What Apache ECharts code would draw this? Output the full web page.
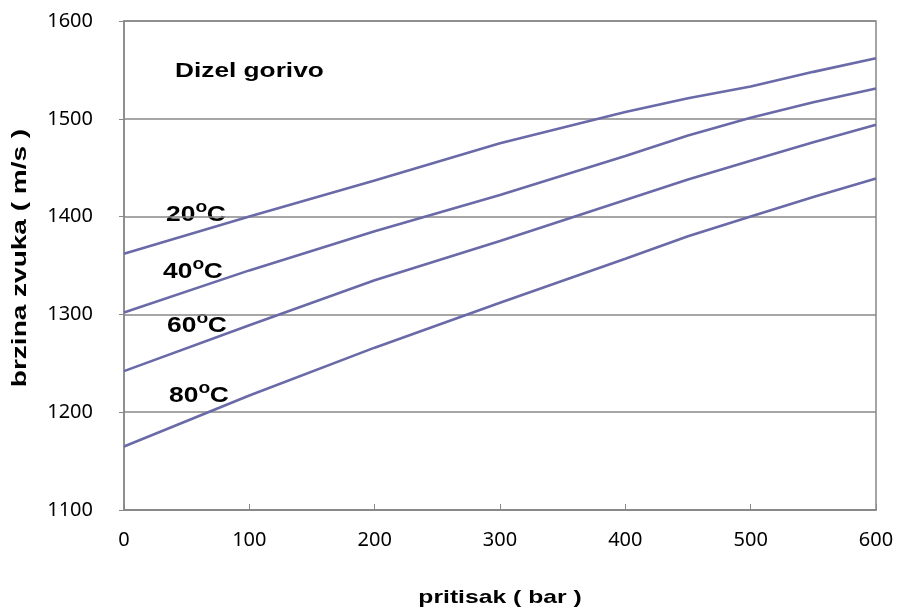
<!DOCTYPE html>
<html>
<head>
<meta charset="utf-8">
<script src="https://cdn.jsdelivr.net/npm/echarts@6/dist/echarts.min.js"></script>
<style>
  html, body { margin: 0; padding: 0; background: #fff; }
  #chart { width: 900px; height: 610px; }
</style>
</head>
<body>
<div id="chart"></div>
<script>
// pressure (bar)
const pressure = [0, 100, 200, 300, 400, 450, 500, 550, 600];
// speed of sound (m/s) per temperature
const t20 = [1362, 1400, 1437, 1475, 1507, 1521, 1533, 1548, 1562];
const t40 = [1302, 1345, 1385, 1422, 1462, 1483, 1501, 1517, 1531];
const t60 = [1242, 1289, 1335, 1375, 1417, 1438, 1457, 1476, 1494];
const t80 = [1165, 1217, 1266, 1312, 1357, 1380, 1400, 1420, 1439];
const tempLabels = ['20', '40', '60', '80'];

const lineColor = '#6A6AA8';
const boldFont = 'Liberation Sans, Arial';
const pairs = (ys) => pressure.map((x, i) => [x, ys[i]]);

const chart = echarts.init(document.getElementById('chart'));

const mkSeries = (ys) => ({
  type: 'line',
  data: pairs(ys),
  symbol: 'none',
  lineStyle: { color: lineColor, width: 2.6 },
  silent: true,
});

// label anchors (left, middle) in pixels
const labelPos = [[166, 215], [163, 272], [167, 326], [169, 396]];
const bold = (text, size, x, y) => ({
  type: 'text', x, y,
  style: { text, fontSize: size, fontWeight: 'bold', fontFamily: boldFont, fill: '#000', align: 'left', verticalAlign: 'middle' },
});
// "20" + raised "o" + "C"
const tempLabel = (t, i) => ({
  type: 'group',
  x: labelPos[i][0], y: labelPos[i][1],
  scaleX: 1.2,
  children: [
    bold(t, 22, 0, 0),
    bold('o', 16, 24.5, -7),
    bold('C', 22, 34, 0),
  ],
});

chart.setOption({
  animation: false,
  grid: { left: 124, right: 24, top: 21, bottom: 100, show: true, borderColor: '#888', borderWidth: 1.5 },
  xAxis: {
    type: 'value', min: 0, max: 600, interval: 100,
    axisLine: { show: true, lineStyle: { color: '#888', width: 1.5 } },
    axisTick: { show: true, inside: true, length: 6, lineStyle: { color: '#888' } },
    splitLine: { show: false },
    axisLabel: { color: '#000', fontSize: 20, fontFamily: 'Noto Sans', margin: 20 },
  },
  yAxis: {
    type: 'value', min: 1100, max: 1600, interval: 100,
    axisLine: { show: true, lineStyle: { color: '#888', width: 1.5 } },
    axisTick: { show: true, length: 5, lineStyle: { color: '#888' } },
    splitLine: { show: true, lineStyle: { color: '#888', width: 1.5 } },
    axisLabel: { color: '#000', fontSize: 20, fontFamily: 'Noto Sans', margin: 31, formatter: (v) => String(v) },
  },
  series: [mkSeries(t20), mkSeries(t40), mkSeries(t60), mkSeries(t80)],
  graphic: [
    {
      type: 'text', x: 175, y: 71, scaleX: 1.25,
      style: { text: 'Dizel gorivo', fontSize: 21, fontWeight: 'bold', fontFamily: boldFont, fill: '#000', align: 'left', verticalAlign: 'middle' },
    },
    {
      type: 'text', x: 500, y: 598, scaleX: 1.3,
      style: { text: 'pritisak ( bar )', fontSize: 19, fontWeight: 'bold', fontFamily: boldFont, fill: '#000', align: 'center', verticalAlign: 'middle' },
    },
    {
      type: 'text', x: 20, y: 258, rotation: Math.PI / 2, scaleX: 1.4,
      style: { text: 'brzina zvuka ( m/s )', fontSize: 20, fontWeight: 'bold', fontFamily: boldFont, fill: '#000', align: 'center', verticalAlign: 'middle' },
    },
    ...tempLabels.map(tempLabel),
  ],
});
</script>
</body>
</html>
